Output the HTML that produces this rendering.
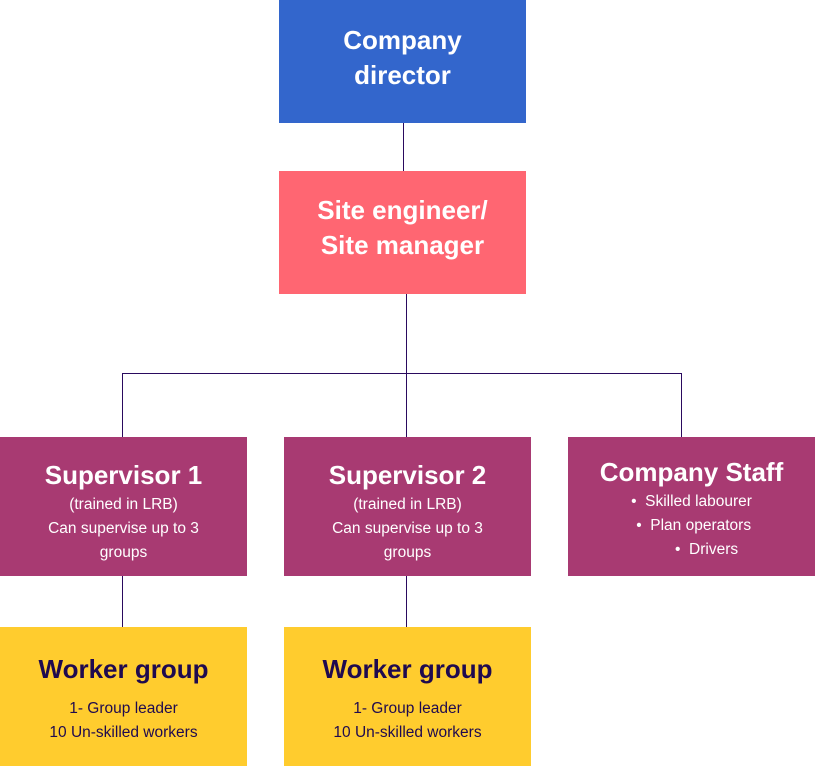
<!DOCTYPE html>
<html><head><meta charset="utf-8"><style>
body{margin:0;width:815px;height:766px;position:relative;background:#fff;font-family:"Liberation Sans","DejaVu Sans",sans-serif;overflow:hidden}
.b{position:absolute;width:247px;text-align:center;box-sizing:border-box}
.l{position:absolute;background:#2a0a5e}
.t{font-weight:bold;color:#fff;font-size:26px;line-height:35px}
.s{color:#fff;font-size:15.5px;line-height:24px}
.bl{background:#3366cc}.co{background:#ff6672}.pu{background:#a83a72}.ye{background:#ffcc2e}
.wt{font-weight:bold;color:#1f0a4f;font-size:26px}
.ws{color:#1f0a4f;font-size:15.5px;line-height:24px}
</style></head><body>
<div class="l" style="left:403px;top:123px;width:1px;height:48px"></div>
<div class="l" style="left:406px;top:294px;width:1px;height:143px"></div>
<div class="l" style="left:122px;top:373px;width:559px;height:1px"></div>
<div class="l" style="left:122px;top:373px;width:1px;height:64px"></div>
<div class="l" style="left:681px;top:373px;width:1px;height:64px"></div>
<div class="l" style="left:122px;top:576px;width:1px;height:51px"></div>
<div class="l" style="left:406px;top:576px;width:1px;height:51px"></div>

<div class="b bl" style="left:279px;top:0;height:123px;padding-top:23px"><div class="t">Company<br>director</div></div>
<div class="b co" style="left:279px;top:171px;height:123px;padding-top:22px"><div class="t">Site engineer/<br>Site manager</div></div>

<div class="b pu" style="left:0;top:437px;height:139px;padding-top:21px"><div class="t">Supervisor 1</div><div class="s">(trained in LRB)<br>Can supervise up to 3<br>groups</div></div>
<div class="b pu" style="left:284px;top:437px;height:139px;padding-top:21px"><div class="t">Supervisor 2</div><div class="s">(trained in LRB)<br>Can supervise up to 3<br>groups</div></div>
<div class="b pu" style="left:568px;top:437px;height:139px;padding-top:18px"><div class="t">Company Staff</div><div class="s">•&nbsp; Skilled labourer<br>&nbsp;•&nbsp; Plan operators<br>&nbsp;&nbsp;&nbsp;&nbsp;&nbsp;&nbsp;&nbsp;•&nbsp; Drivers</div></div>

<div class="b ye" style="left:0;top:627px;height:139px;padding-top:27px"><div class="wt">Worker group</div><div class="ws" style="margin-top:12px">1- Group leader<br>10 Un-skilled workers</div></div>
<div class="b ye" style="left:284px;top:627px;height:139px;padding-top:27px"><div class="wt">Worker group</div><div class="ws" style="margin-top:12px">1- Group leader<br>10 Un-skilled workers</div></div>
</body></html>
